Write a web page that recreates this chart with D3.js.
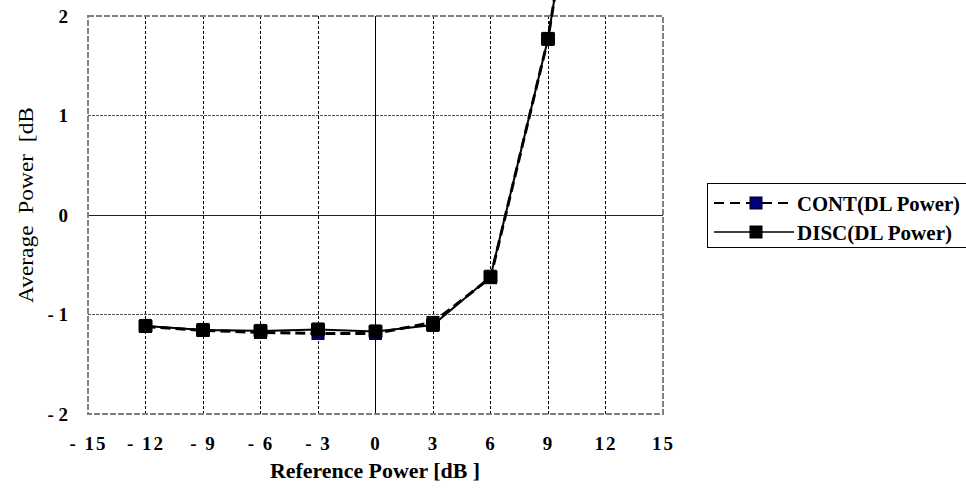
<!DOCTYPE html>
<html>
<head>
<meta charset="utf-8">
<script src="https://cdn.jsdelivr.net/npm/d3@7"></script>
<style>
  body { margin: 0; background: #fff; }
  svg text { font-family: "Liberation Serif", "DejaVu Serif", serif; }
</style>
</head>
<body>
<div id="chart"></div>
<script>
// data
var refPower = [-12, -9, -6, -3, 0, 3, 6, 9, 12];
var contPower = [-1.12, -1.16, -1.18, -1.19, -1.19, -1.08, -0.63, 1.77, 5.4];
var discPower = [-1.115, -1.155, -1.165, -1.15, -1.17, -1.105, -0.62, 1.77, 5.4];
var xTicks = [-15, -12, -9, -6, -3, 0, 3, 6, 9, 12, 15];
var yTicks = [-2, -1, 0, 1, 2];
var seriesNames = ["CONT(DL Power)", "DISC(DL Power)"];

function program() {
    var width = 966,
        height = 488;

    var svg = d3.select("#chart")
        .append("svg")
        .attr("width", width)
        .attr("height", height);

    var x = d3.scaleLinear().domain([-15, 15]).range([88, 663]);
    var y = d3.scaleLinear().domain([-2, 2]).range([414, 16]);

    // grid
    var grid = svg.append("g").attr("shape-rendering", "crispEdges");
    grid.selectAll(".vg")
        .data(xTicks.filter(function(d){ return d > -15 && d < 15; }))
        .join("line")
        .attr("x1", function(d){ return x(d); })
        .attr("x2", function(d){ return x(d); })
        .attr("y1", y(2))
        .attr("y2", y(-2))
        .attr("stroke", "#000")
        .attr("stroke-width", 1)
        .attr("stroke-dasharray", function(d){ return d === 0 ? null : "3,2"; });
    grid.selectAll(".hg")
        .data(yTicks.filter(function(d){ return d > -2 && d < 2; }))
        .join("line")
        .attr("x1", x(-15))
        .attr("x2", x(15))
        .attr("y1", function(d){ return y(d); })
        .attr("y2", function(d){ return y(d); })
        .attr("stroke", function(d){ return d === 0 ? "#222" : "#555"; })
        .attr("stroke-width", 1)
        .attr("stroke-dasharray", function(d){ return d === 0 ? null : "3,1"; });

    // plot border
    svg.append("rect")
        .attr("x", x(-15))
        .attr("y", y(2))
        .attr("width", x(15) - x(-15))
        .attr("height", y(-2) - y(2))
        .attr("fill", "none")
        .attr("stroke", "#808080")
        .attr("stroke-width", 2)
        .attr("stroke-dasharray", "6,2");

    // axes
    var fmt = function(d){ return d < 0 ? "- " + Math.abs(d) : String(d); };

    var xAxis = svg.append("g")
        .attr("transform", "translate(0," + y(-2) + ")")
        .call(d3.axisBottom(x).tickValues(xTicks).tickSize(0).tickPadding(23).tickFormat(fmt));
    xAxis.select(".domain").remove();
    xAxis.selectAll("text")
        .attr("font-family", "Liberation Serif")
        .attr("font-size", 19)
        .attr("font-weight", "bold")
        .attr("letter-spacing", "2px")
        .attr("fill", "#000");

    var yAxis = svg.append("g")
        .attr("transform", "translate(" + x(-15) + ",0)")
        .call(d3.axisLeft(y).tickValues(yTicks).tickSize(0).tickPadding(20).tickFormat(fmt));
    yAxis.select(".domain").remove();
    yAxis.selectAll("text")
        .attr("font-family", "Liberation Serif")
        .attr("font-size", 19)
        .attr("font-weight", "bold")
        .attr("fill", "#000");

    // axis titles
    svg.append("text")
        .attr("x", 270)
        .attr("y", 478)
        .attr("font-size", 21)
        .attr("font-weight", "bold")
        .attr("textLength", 210)
        .attr("lengthAdjust", "spacingAndGlyphs")
        .text("Reference Power [dB ]");

    svg.append("text")
        .attr("transform", "translate(33,303) rotate(-90)")
        .attr("font-size", 21)
        .style("white-space", "pre")
        .attr("textLength", 196)
        .attr("lengthAdjust", "spacingAndGlyphs")
        .text("Average  Power  [dB");

    var line = d3.line()
        .x(function(d){ return x(d[0]); })
        .y(function(d){ return y(d[1]); });

    var cont = refPower.map(function(d, i){ return [d, contPower[i]]; });
    var disc = refPower.map(function(d, i){ return [d, discPower[i]]; });

    svg.append("path")
        .datum(cont)
        .attr("d", line)
        .attr("fill", "none")
        .attr("stroke", "#000")
        .attr("stroke-width", 3)
        .attr("stroke-dasharray", "10,5");

    svg.append("g")
        .selectAll("rect")
        .data(cont.filter(function(d){ return d[1] <= 2; }))
        .join("rect")
        .attr("x", function(d){ return x(d[0]) - 6; })
        .attr("y", function(d){ return y(d[1]) - 6; })
        .attr("width", 12)
        .attr("height", 12)
        .attr("fill", "#000080")
        .attr("stroke", "#000")
        .attr("stroke-width", 1);

    svg.append("path")
        .datum(disc)
        .attr("d", line)
        .attr("fill", "none")
        .attr("stroke", "#000")
        .attr("stroke-width", 2);

    svg.append("g")
        .selectAll("rect")
        .data(disc.filter(function(d){ return d[1] <= 2; }))
        .join("rect")
        .attr("x", function(d){ return x(d[0]) - 6.5; })
        .attr("y", function(d){ return y(d[1]) - 6.5; })
        .attr("width", 13)
        .attr("height", 13)
        .attr("rx", 1)
        .attr("fill", "#000")
        .attr("stroke", "#000")
        .attr("stroke-width", 1);

    // legend
    var legend = svg.append("g");
    legend.append("rect")
        .attr("x", 707.5)
        .attr("y", 183.5)
        .attr("width", 262)
        .attr("height", 64)
        .attr("fill", "#fff")
        .attr("stroke", "#000")
        .attr("stroke-width", 1);

    var textWidths = [163, 155];

    var rows = legend.selectAll(".row")
        .data(seriesNames)
        .join("g")
        .attr("transform", function(d, i){ return "translate(0," + (203 + i * 29) + ")"; });

    rows.append("line")
        .attr("x1", 714)
        .attr("x2", 794)
        .attr("y1", 0)
        .attr("y2", 0)
        .attr("stroke", "#000")
        .attr("stroke-width", function(d, i){ return i === 0 ? 2 : 1.5; })
        .attr("stroke-dasharray", function(d, i){ return i === 0 ? "10,6" : null; });

    rows.append("rect")
        .attr("x", 750)
        .attr("y", -6)
        .attr("width", 12)
        .attr("height", 12)
        .attr("fill", function(d, i){ return i === 0 ? "#000080" : "#000"; })
        .attr("stroke", "#000");

    rows.append("text")
        .attr("x", 797)
        .attr("y", 8)
        .attr("font-size", 21)
        .attr("font-weight", "bold")
        .attr("textLength", function(d, i){ return textWidths[i]; })
        .attr("lengthAdjust", "spacingAndGlyphs")
        .text(function(d){ return d; });
}

program();
</script>
</body>
</html>
